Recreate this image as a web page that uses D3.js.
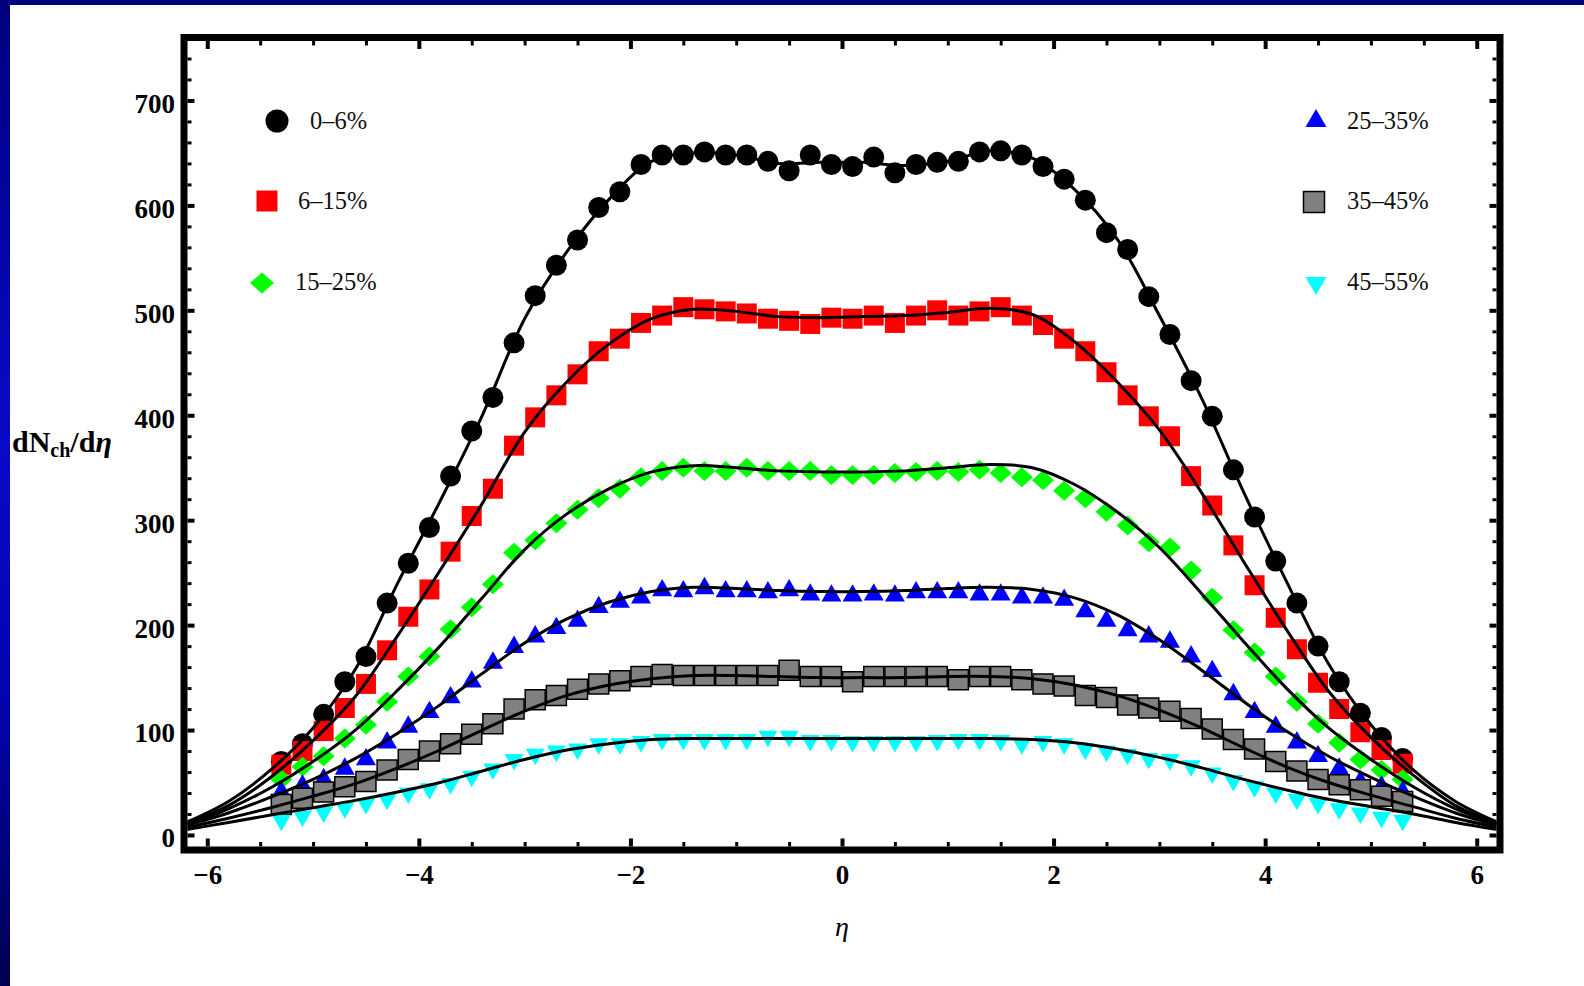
<!DOCTYPE html>
<html>
<head>
<meta charset="utf-8">
<script src="https://cdn.jsdelivr.net/npm/d3@7"></script>
<style>
  body { margin: 0; background: #fff; }
  svg { display: block; }
</style>
</head>
<body>
<div class="chart-main"></div>
<script>
// pseudorapidity bin centres of the measured points
const eta = [-5.3, -5.1, -4.9, -4.7, -4.5, -4.3, -4.1, -3.9, -3.7, -3.5, -3.3, -3.1,
  -2.9, -2.7, -2.5, -2.3, -2.1, -1.9, -1.7, -1.5, -1.3, -1.1, -0.9, -0.7, -0.5, -0.3, -0.1,
  0.1, 0.3, 0.5, 0.7, 0.9, 1.1, 1.3, 1.5, 1.7, 1.9, 2.1, 2.3, 2.5, 2.7, 2.9, 3.1,
  3.3, 3.5, 3.7, 3.9, 4.1, 4.3, 4.5, 4.7, 4.9, 5.1, 5.3];

// dNch/deta, one list per centrality class
const cent0to6 = [70, 87, 115, 146, 170, 221, 259, 293, 342, 385, 417, 469,
  514, 543, 567, 598, 613, 639, 648, 648, 651, 648, 648, 642, 633, 648, 639,
  637, 646, 631, 639, 641, 642, 651, 652, 648, 637, 625, 605, 574, 558, 513, 477,
  433, 399, 348, 303, 261, 221, 180, 146, 116, 93, 73];
const cent6to15 = [67, 80, 99, 121, 144, 176, 208, 234, 270, 304, 330, 371,
  398, 419, 439, 461, 473, 488, 495, 503, 501, 499, 497, 492, 490, 487, 493,
  492, 495, 488, 495, 500, 495, 499, 503, 495, 486, 473, 461, 441, 419, 399, 380,
  342, 314, 276, 238, 207, 177, 145, 120, 98, 81, 68];
const cent15to25 = [53, 65, 75, 92, 105, 127, 151, 170, 196, 217, 239, 269,
  281, 297, 310, 321, 330, 341, 347, 350, 347, 347, 350, 347, 347, 347, 343,
  343, 343, 345, 346, 347, 346, 348, 345, 341, 338, 328, 321, 308, 295, 279, 274,
  252, 226, 195, 174, 151, 127, 106, 88, 72, 62, 53];
const cent25to35 = [41, 47, 53, 63, 72, 88, 103, 117, 131, 146, 164, 179,
  189, 197, 204, 217, 222, 226, 233, 232, 235, 232, 232, 231, 233, 229, 228,
  228, 229, 228, 231, 231, 231, 229, 229, 226, 226, 224, 213, 204, 195, 189, 184,
  170, 156, 134, 117, 103, 88, 75, 63, 51, 46, 41];
const cent35to45 = [29, 35, 41, 46, 51, 62, 72, 80, 87, 96, 106, 120,
  129, 133, 139, 144, 147, 151, 153, 152, 152, 152, 152, 152, 157, 151, 151,
  146, 151, 151, 151, 151, 148, 151, 151, 148, 144, 142, 133, 131, 124, 121, 118,
  111, 101, 91, 82, 70, 61, 53, 48, 43, 37, 32];
const cent45to55 = [14, 18, 22, 26, 30, 34, 40, 44, 49, 56, 63, 72,
  77, 80, 82, 87, 87, 89, 91, 91, 91, 91, 91, 94, 94, 90, 90,
  89, 89, 89, 89, 90, 91, 91, 90, 87, 89, 87, 82, 80, 77, 73, 72,
  66, 59, 52, 46, 40, 34, 30, 25, 21, 17, 14];

// fitted curves
const fitEta = [-6.2, -5.8, -5.4, -5.0, -4.6, -4.2, -3.8, -3.4, -3.0, -2.6, -2.2, -1.8, -1.4, -1.0, -0.6, -0.2,
  0.2, 0.6, 1.0, 1.4, 1.8, 2.2, 2.6, 3.0, 3.4, 3.8, 4.2, 4.6, 5.0, 5.4, 5.8, 6.2];
const fit0to6 = [12, 32, 62, 102, 158, 240, 318, 400, 492, 556, 606, 642, 650, 648, 640, 641,
  641, 638, 642, 652, 645, 615, 568, 495, 416, 326, 242, 163, 105, 62, 32, 12];
const fit6to15 = [11, 28, 55, 90, 132, 190, 252, 316, 384, 432, 468, 492, 501, 499, 494, 493,
  494, 495, 498, 502, 496, 470, 432, 386, 326, 260, 196, 137, 93, 57, 28, 11];
const fit15to25 = [10, 25, 45, 70, 100, 138, 180, 226, 272, 306, 330, 346, 352, 350, 347, 346,
  346, 347, 350, 353, 350, 334, 308, 274, 230, 184, 140, 102, 72, 46, 25, 10];
const fit25to35 = [9, 21, 36, 53, 73, 97, 124, 154, 183, 206, 222, 232, 236, 235, 233, 232,
  232, 233, 235, 236, 234, 226, 210, 186, 157, 127, 99, 75, 55, 37, 21, 9];
const fit35to45 = [7, 16, 26, 37, 49, 64, 81, 100, 118, 133, 143, 149, 152, 152, 151, 150,
  150, 150, 151, 151, 149, 143, 133, 119, 102, 83, 65, 50, 38, 27, 16, 7];
const fit45to55 = [5, 12, 19, 26, 33, 41, 50, 61, 72, 81, 87, 91, 92, 92, 92, 92,
  92, 92, 92, 92, 91, 88, 82, 74, 64, 53, 43, 34, 27, 20, 12, 5];

const seriesLabels = ['0\u20136%', '6\u201315%', '15\u201325%', '25\u201335%', '35\u201345%', '45\u201355%'];

const xTicks = [-6, -4, -2, 0, 2, 4, 6];
const yTicks = [0, 100, 200, 300, 400, 500, 600, 700];

const widthSvg = 1584;
const heightSvg = 986;
const frame = { left: 184, right: 1500, top: 37.5, bottom: 850 };
const frameWidth = 7;
const inner = {
  left: frame.left + frameWidth / 2,
  right: frame.right - frameWidth / 2,
  top: frame.top + frameWidth / 2,
  bottom: frame.bottom - frameWidth / 2
};
const serif = '"Liberation Serif", "Times New Roman", Times, serif';

// custom marker shapes
const diamond = (hw, hh) => ({
  draw(ctx) {
    ctx.moveTo(-hw, 0); ctx.lineTo(0, -hh); ctx.lineTo(hw, 0); ctx.lineTo(0, hh); ctx.closePath();
  }
});
const triangle = (w, down) => ({
  draw(ctx) {
    const h = w * Math.sqrt(3) / 2;
    const s = down ? -1 : 1;
    ctx.moveTo(0, -s * h * 2 / 3); ctx.lineTo(w / 2, s * h / 3); ctx.lineTo(-w / 2, s * h / 3); ctx.closePath();
  }
});
const square = (side) => ({
  draw(ctx) { ctx.rect(-side / 2, -side / 2, side, side); }
});
const circle = (r) => ({
  draw(ctx) { ctx.moveTo(r, 0); ctx.arc(0, 0, r, 0, 2 * Math.PI); }
});

const series = [
  { values: cent0to6, fit: fit0to6, shape: circle(10.5), legendShape: circle(11.5), fill: '#000000', stroke: 'none' },
  { values: cent6to15, fit: fit6to15, shape: square(20), legendShape: square(21), fill: '#ff0000', stroke: 'none' },
  { values: cent15to25, fit: fit15to25, shape: diamond(11, 10), legendShape: diamond(12, 10.5), fill: '#00ff00', stroke: 'none' },
  { values: cent25to35, fit: fit25to35, shape: triangle(20, false), legendShape: triangle(21, false), fill: '#0000ff', stroke: 'none' },
  { values: cent35to45, fit: fit35to45, shape: square(20), legendShape: square(21), fill: '#808080', stroke: '#000000' },
  { values: cent45to55, fit: fit45to55, shape: triangle(19, true), legendShape: triangle(21, true), fill: '#00ffff', stroke: 'none' }
];

const scaleX = d3.scaleLinear().domain([-6.22, 6.22]).range([frame.left, frame.right]);
const scaleY = d3.scaleLinear().domain([-14.3, 760]).range([frame.bottom, frame.top]);

const svg = d3.select('.chart-main').append('svg')
  .attr('xmlns', 'http://www.w3.org/2000/svg')
  .attr('width', widthSvg)
  .attr('height', heightSvg)
  .attr('viewBox', `0 0 ${widthSvg} ${heightSvg}`);

// slide background
const defs = svg.append('defs');
const grad = defs.append('linearGradient').attr('id', 'side-blue')
  .attr('x1', 0).attr('y1', 0).attr('x2', 0).attr('y2', 1);
grad.append('stop').attr('offset', '0%').attr('stop-color', '#00007e');
grad.append('stop').attr('offset', '45%').attr('stop-color', '#0a0ac8');
grad.append('stop').attr('offset', '70%').attr('stop-color', '#0404b0');
grad.append('stop').attr('offset', '100%').attr('stop-color', '#000050');
defs.append('clipPath').attr('id', 'plot-clip')
  .append('rect')
  .attr('x', inner.left).attr('y', inner.top)
  .attr('width', inner.right - inner.left).attr('height', inner.bottom - inner.top);

svg.append('rect').attr('width', widthSvg).attr('height', heightSvg).attr('fill', '#ffffff');
svg.append('rect').attr('x', 0).attr('y', 0).attr('width', 10).attr('height', heightSvg).attr('fill', 'url(#side-blue)');
svg.append('rect').attr('x', 0).attr('y', 0).attr('width', widthSvg).attr('height', 5).attr('fill', '#00007e');

// ticks
const minorX = d3.range(-6, 6.01, 0.5).filter(v => !xTicks.includes(v));
const minorY = d3.range(20, 760, 20).filter(v => !yTicks.includes(v));

const styleTicks = (g, width) => {
  g.select('.domain').remove();
  g.selectAll('.tick line').attr('stroke', '#000').attr('stroke-width', width);
};

const tickFont = g => g.attr('font-family', serif).attr('font-size', 27).attr('font-weight', 'bold')
  .selectAll('.tick text').attr('fill', '#000');

const axisGroup = svg.append('g').attr('class', 'axes');

axisGroup.append('g')
  .attr('transform', `translate(0, ${inner.bottom})`)
  .call(d3.axisBottom(scaleX).tickValues(xTicks).tickSize(-8).tickSizeOuter(0).tickPadding(18.5))
  .call(g => styleTicks(g, 4))
  .call(tickFont);
axisGroup.append('g')
  .attr('transform', `translate(0, ${inner.bottom})`)
  .call(d3.axisBottom(scaleX).tickValues(minorX).tickSize(-4.5).tickSizeOuter(0).tickFormat(''))
  .call(g => styleTicks(g, 3));
axisGroup.append('g')
  .attr('transform', `translate(0, ${inner.top})`)
  .call(d3.axisTop(scaleX).tickValues(xTicks).tickSize(-8).tickSizeOuter(0).tickFormat(''))
  .call(g => styleTicks(g, 4));
axisGroup.append('g')
  .attr('transform', `translate(0, ${inner.top})`)
  .call(d3.axisTop(scaleX).tickValues(minorX).tickSize(-4.5).tickSizeOuter(0).tickFormat(''))
  .call(g => styleTicks(g, 3));

axisGroup.append('g')
  .attr('transform', `translate(${inner.left}, 0)`)
  .call(d3.axisLeft(scaleY).tickValues(yTicks).tickSize(-7).tickSizeOuter(0).tickPadding(12.5))
  .call(g => styleTicks(g, 4))
  .call(tickFont)
  .call(g => g.selectAll('.tick text').attr('dy', '0.44em'));
axisGroup.append('g')
  .attr('transform', `translate(${inner.left}, 0)`)
  .call(d3.axisLeft(scaleY).tickValues(minorY).tickSize(-4).tickSizeOuter(0).tickFormat(''))
  .call(g => styleTicks(g, 3));
axisGroup.append('g')
  .attr('transform', `translate(${inner.right}, 0)`)
  .call(d3.axisRight(scaleY).tickValues(yTicks).tickSize(-7).tickSizeOuter(0).tickFormat(''))
  .call(g => styleTicks(g, 4));
axisGroup.append('g')
  .attr('transform', `translate(${inner.right}, 0)`)
  .call(d3.axisRight(scaleY).tickValues(minorY).tickSize(-4).tickSizeOuter(0).tickFormat(''))
  .call(g => styleTicks(g, 3));

// data points
const groupPlot = svg.append('g').attr('clip-path', 'url(#plot-clip)');

series.forEach(s => {
  groupPlot.append('g')
    .selectAll('path')
    .data(eta.map((e, i) => [e, s.values[i]]))
    .enter()
    .append('path')
    .attr('transform', d => `translate(${scaleX(d[0])}, ${scaleY(d[1])})`)
    .attr('d', d3.symbol().type(s.shape))
    .attr('fill', s.fill)
    .attr('stroke', s.stroke)
    .attr('stroke-width', 1.5);
});

// fitted curves on top
const line = d3.line()
  .x(d => scaleX(d[0]))
  .y(d => scaleY(d[1]))
  .curve(d3.curveCatmullRom.alpha(0.5));

series.forEach(s => {
  groupPlot.append('path')
    .attr('d', line(fitEta.map((e, i) => [e, s.fit[i]])))
    .attr('fill', 'none')
    .attr('stroke', '#000')
    .attr('stroke-width', 3);
});

// frame
svg.append('rect')
  .attr('x', frame.left).attr('y', frame.top)
  .attr('width', frame.right - frame.left).attr('height', frame.bottom - frame.top)
  .attr('fill', 'none')
  .attr('stroke', '#000')
  .attr('stroke-width', frameWidth);

// legend
const legendPos = [
  { mx: 277, my: 121, tx: 310, ty: 129 },
  { mx: 267, my: 201, tx: 298, ty: 209 },
  { mx: 262, my: 283, tx: 295, ty: 290 },
  { mx: 1316, my: 121, tx: 1347, ty: 129 },
  { mx: 1314, my: 202, tx: 1347, ty: 209 },
  { mx: 1316, my: 283, tx: 1347, ty: 290 }
];

const legend = svg.append('g').attr('class', 'legend');
series.forEach((s, i) => {
  const p = legendPos[i];
  legend.append('path')
    .attr('transform', `translate(${p.mx}, ${p.my})`)
    .attr('d', d3.symbol().type(s.legendShape))
    .attr('fill', s.fill)
    .attr('stroke', s.stroke)
    .attr('stroke-width', 1.5);
  legend.append('text')
    .attr('x', p.tx).attr('y', p.ty)
    .attr('font-family', serif)
    .attr('font-size', 24.5)
    .attr('fill', '#111')
    .text(seriesLabels[i]);
});

// axis titles
const yTitle = svg.append('text')
  .attr('x', 12).attr('y', 452)
  .attr('font-family', serif).attr('font-size', 30).attr('font-weight', 'bold')
  .attr('fill', '#000');
yTitle.append('tspan').text('dN');
yTitle.append('tspan').attr('font-size', 20).attr('dy', 5).text('ch');
yTitle.append('tspan').attr('dy', -5).text('/d');
yTitle.append('tspan').attr('font-style', 'italic').text('\u03b7');

svg.append('text')
  .attr('x', scaleX(0)).attr('y', 936)
  .attr('text-anchor', 'middle')
  .attr('font-family', serif).attr('font-size', 28).attr('font-style', 'italic')
  .attr('fill', '#000')
  .text('\u03b7');
</script>
</body>
</html>
